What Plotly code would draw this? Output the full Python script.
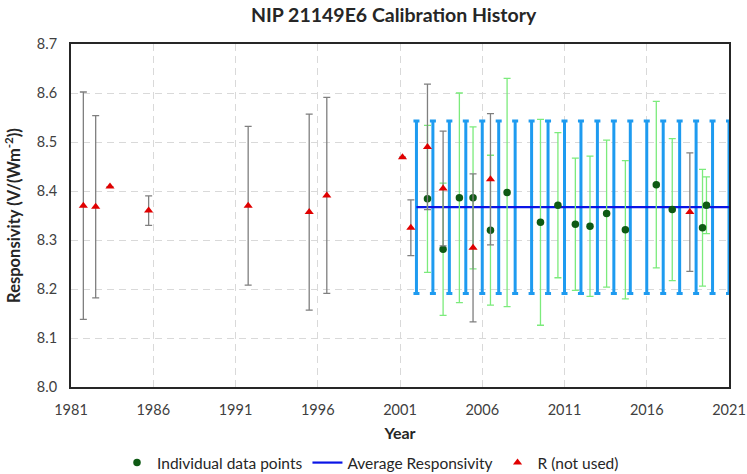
import plotly.graph_objects as go

# Individual data points (green)
ind_year = [2002.67, 2003.62, 2004.61, 2005.44, 2006.50, 2007.51, 2009.54, 2010.60,
            2011.66, 2012.55, 2013.56, 2014.70, 2016.58, 2017.55, 2019.39, 2019.63]
ind_resp = [8.384, 8.281, 8.386, 8.386, 8.320, 8.397, 8.336, 8.371,
            8.332, 8.328, 8.354, 8.321, 8.413, 8.362, 8.325, 8.371]
ind_unc = [0.150, 0.135, 0.214, 0.145, 0.153, 0.233, 0.210, 0.148,
           0.135, 0.143, 0.150, 0.141, 0.170, 0.145, 0.119, 0.058]

# R (not used) points (red)
r_year = [1981.75, 1982.50, 1983.37, 1985.72, 1991.77, 1995.48, 1996.55,
          2001.15, 2001.66, 2002.67, 2003.62, 2005.44, 2006.50, 2018.62]
r_resp = [8.370, 8.368, 8.409, 8.360, 8.370, 8.357, 8.391,
          8.469, 8.325, 8.490, 8.405, 8.284, 8.424, 8.357]
r_unc = [0.232, 0.186, 0.0, 0.030, 0.162, 0.200, 0.200,
         0.0, 0.057, 0.128, 0.117, 0.151, 0.134, 0.121]

# Average responsivity
avg_year = [2002, 2003, 2004, 2005, 2006, 2007, 2008, 2009, 2010, 2011,
            2012, 2013, 2014, 2015, 2016, 2017, 2018, 2019, 2020, 2021]
avg_value = 8.367
avg_unc_value = 0.176
avg_resp = [avg_value for _ in avg_year]
avg_unc = [avg_unc_value for _ in avg_year]

x_ticks = [1981, 1986, 1991, 1996, 2001, 2006, 2011, 2016, 2021]
y_ticks = [8.0, 8.1, 8.2, 8.3, 8.4, 8.5, 8.6, 8.7]

FONT = "Lato, 'Open Sans', sans-serif"

fig = go.Figure()

fig.add_trace(go.Scatter(
    x=avg_year, y=avg_resp, mode="lines", name="Average Responsivity",
    line=dict(color="#0A14E6", width=2.2),
    error_y=dict(type="data", array=avg_unc, visible=True, color="#1E9BF0",
                 thickness=3, width=3),
    legendrank=2, cliponaxis=False,
))

fig.add_trace(go.Scatter(
    x=ind_year, y=ind_resp, mode="markers", name="Individual data points",
    marker=dict(color="#0E5A14", size=7.5, symbol="circle"),
    error_y=dict(type="data", array=ind_unc, visible=True, color="#7CEB7C",
                 thickness=1.3, width=3.5),
    legendrank=1,
))

fig.add_trace(go.Scatter(
    x=r_year, y=r_resp, mode="markers", name="R (not used)",
    marker=dict(color="#E00000", size=8, symbol="triangle-up"),
    error_y=dict(type="data", array=r_unc, visible=True, color="#7F7F7F",
                 thickness=1.3, width=3.5),
    legendrank=3,
))

fig.update_layout(
    width=747, height=474,
    margin=dict(l=71, r=18, t=44, b=87, autoexpand=False),
    paper_bgcolor="white", plot_bgcolor="white",
    font=dict(family=FONT, size=14, color="#404040"),
    title=dict(text="<b>NIP 21149E6 Calibration History</b>", x=0.527, xanchor="center",
               xref="container", yref="container",
               y=1 - 15 / 474, yanchor="middle", automargin=False,
               font=dict(family=FONT, size=19.5, color="#262626")),
    showlegend=True,
    legend=dict(orientation="h", xref="container", yref="container",
                x=0.496, xanchor="center", y=1 - 463 / 474, yanchor="middle",
                font=dict(family=FONT, size=15.5, color="#262626"),
                traceorder="normal", itemwidth=30),
)

fig.update_xaxes(
    range=[1981, 2021], tickvals=x_ticks, ticktext=[str(v) for v in x_ticks],
    showgrid=True, gridcolor="#D9D9D9", griddash="7px,5px", gridwidth=1.3,
    showline=True, mirror=True, linecolor="#262626", linewidth=2,
    zeroline=False, ticks="", automargin=False, ticklabelstandoff=9,
    tickfont=dict(family=FONT, size=14.5, color="#404040"),
    title=dict(text="<b>Year</b>", standoff=10,
               font=dict(family=FONT, size=16, color="#262626")),
)
fig.update_yaxes(
    range=[8.0, 8.7], tickvals=y_ticks, ticktext=[f"{v:.1f}" for v in y_ticks],
    showgrid=True, gridcolor="#D9D9D9", griddash="7px,5px", gridwidth=1.3,
    showline=True, mirror=True, linecolor="#262626", linewidth=2,
    zeroline=False, ticks="", automargin=False, ticklabelstandoff=9,
    tickfont=dict(family=FONT, size=14.5, color="#404040"),
    title=dict(text="<b>Responsivity (V/(Wm<sup>-2</sup>))</b>", standoff=12,
               font=dict(family=FONT, size=16.5, color="#262626")),
)

fig.write_html("out.html",
               config={"displayModeBar": False},
               post_script="document.body.style.margin='0';document.body.style.padding='0';")
